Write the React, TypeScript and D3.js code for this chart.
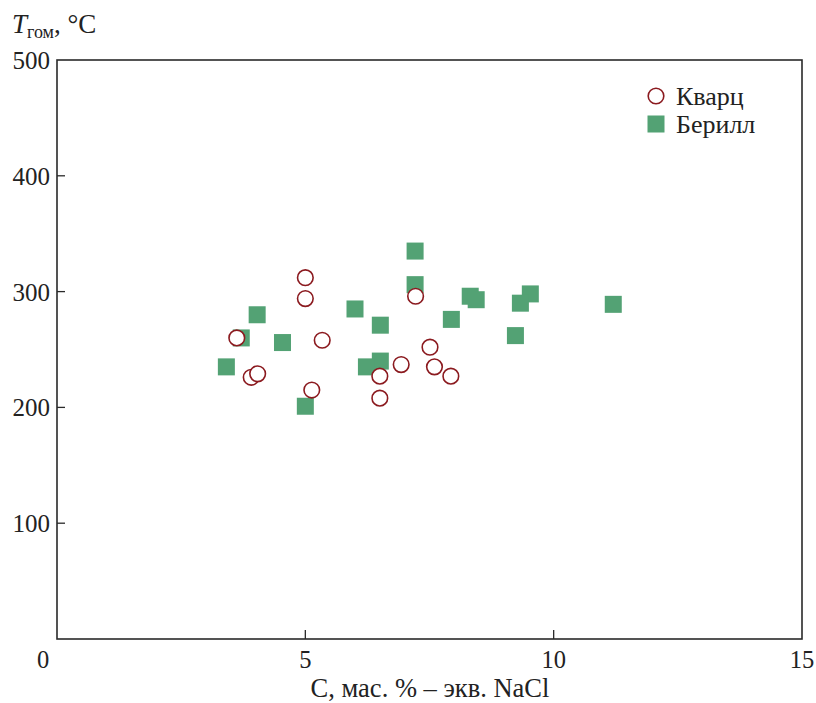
import React from 'react';
import * as d3 from 'd3';

// Кварц (circles)
const quartzC = [5.0, 5.0, 3.62, 5.34, 7.22, 7.51, 6.93, 7.6, 7.93, 6.5, 6.5, 5.13, 3.91, 4.04];
const quartzT = [312, 294, 260, 258, 296, 252, 237, 235, 227, 227, 208, 215, 226, 229];

// Берилл (squares)
const berylC = [7.21, 7.21, 4.03, 6.0, 6.51, 7.94, 3.71, 4.54, 3.41, 6.51, 6.23, 5.0, 8.32, 8.44, 9.53, 9.33, 9.23, 11.2];
const berylT = [335, 306, 280, 285, 271, 276, 260, 256, 235, 240, 235, 201, 296, 293, 298, 290, 262, 289];

const xTicks = [0, 5, 10, 15];
const yTicks = [100, 200, 300, 400, 500];

const W = 816;
const H = 703;
const left = 57;
const right = 802;
const top = 60;
const bottom = 639;
const font = "'Liberation Serif', serif";
const red = '#8b1a1f';
const green = '#53a274';

export default function App() {
    const x = d3.scaleLinear().domain([0, 15]).range([left, right]);
    const y = d3.scaleLinear().domain([0, 500]).range([bottom, top]);
    const sq = 17;
    const ts = { fontFamily: font };

    return (
        <svg width={W} height={H} style={{ position: 'fixed', left: 0, top: 0, background: '#fff', fontFamily: font }}>
            <rect x={left} y={top} width={right - left} height={bottom - top}
                fill="none" stroke="#2a2a2a" strokeWidth={1.6} />
            {xTicks.slice(1, -1).map(t => (
                <line key={'xt' + t} x1={x(t)} x2={x(t)} y1={bottom} y2={bottom - 9} stroke="#2a2a2a" strokeWidth={1.3} />
            ))}
            {yTicks.slice(0, -1).map(t => (
                <line key={'yt' + t} x1={left} x2={left + 8} y1={y(t)} y2={y(t)} stroke="#2a2a2a" strokeWidth={1.3} />
            ))}
            {xTicks.map(t => (
                <text key={'xl' + t} style={ts} x={t === 0 ? x(t) - 14 : x(t)} y={bottom + 29} textAnchor="middle"
                    fontSize={24.5} fill="#222">{t}</text>
            ))}
            {yTicks.map(t => (
                <text key={'yl' + t} style={ts} x={left - 7} y={y(t) + 9} textAnchor="end" fontSize={25} fill="#222">{t}</text>
            ))}
            <text style={ts} x={430} y={697} textAnchor="middle" fontSize={26.5} fill="#222">C, мас. % – экв. NaCl</text>
            <text style={ts} x={12} y={33} fontSize={27} fill="#222">
                <tspan fontStyle="italic">T</tspan>
                <tspan fontSize={18} dy={5}>гом</tspan>
                <tspan dy={-5}>, °C</tspan>
            </text>

            {berylC.map((c, i) => (
                <rect key={'b' + i} x={x(c) - sq / 2} y={y(berylT[i]) - sq / 2} width={sq} height={sq} fill={green} />
            ))}
            {quartzC.map((c, i) => (
                <circle key={'q' + i} cx={x(c)} cy={y(quartzT[i])} r={7.8} fill="#fff" stroke={red} strokeWidth={1.6} />
            ))}

            <circle cx={656} cy={96} r={7.8} fill="#fff" stroke={red} strokeWidth={1.6} />
            <text style={ts} x={676} y={105} fontSize={26} fill="#222">Кварц</text>
            <rect x={656 - sq / 2} y={124 - sq / 2} width={sq} height={sq} fill={green} />
            <text style={ts} x={676} y={133} fontSize={26} fill="#222">Берилл</text>
        </svg>
    );
}
